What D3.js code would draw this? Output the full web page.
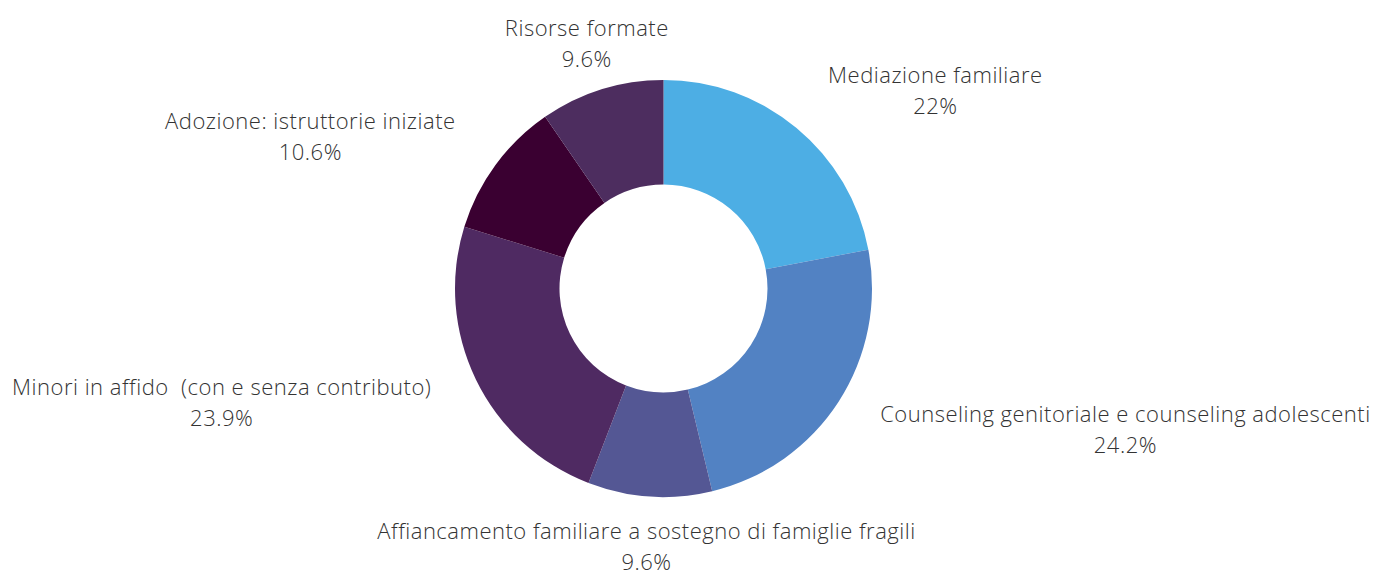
<!DOCTYPE html>
<html>
<head>
<meta charset="utf-8">
<script src="https://cdn.jsdelivr.net/npm/d3@7"></script>
<style>
  body { margin: 0; background: #fff; }
  text { font-family: "Open Sans", sans-serif; font-weight: 300; fill: #333; white-space: pre; }
</style>
</head>
<body>
<div id="chart"></div>
<script>
// categories, clockwise from 12 o'clock
var categories = [
	"Mediazione familiare",
	"Counseling genitoriale e counseling adolescenti",
	"Affiancamento familiare a sostegno di famiglie fragili",
	"Minori in affido  (con e senza contributo)",
	"Adozione: istruttorie iniziate",
	"Risorse formate"
];
var values = [22, 24.2, 9.6, 23.9, 10.6, 9.6];
var valueLabels = ["22%", "24.2%", "9.6%", "23.9%", "10.6%", "9.6%"];
var colors = ["#4daee4", "#5282c3", "#545794", "#4f2a62", "#3a0031", "#4d2d5f"];

function DrawDonut(selectid) {
	var width = 1377, height = 571;
	var cx = 663.5, cy = 288.5;
	var outerR = 208.5, innerR = 104;
	var labelR = 258;
	var fontsize = 22;
	var lineGap = 31;

	var svg = d3.select("#" + selectid).append("svg")
		.attr("width", width)
		.attr("height", height);

	var data = categories.map(function(c, i) {
		return {name: c, value: values[i], label: valueLabels[i], color: colors[i]};
	});

	var pie = d3.pie().sort(null).value(function(d) { return d.value; });
	var arc = d3.arc().innerRadius(innerR).outerRadius(outerR);
	var arcs = pie(data);

	var g = svg.append("g").attr("transform", "translate(" + cx + "," + cy + ")");

	g.selectAll("path.slice")
		.data(arcs)
		.enter()
		.append("path")
		.attr("class", "slice")
		.attr("d", arc)
		.attr("fill", function(d) { return d.data.color; });

	//labels: block sits on the mid angle, anchored by side
	var labels = g.selectAll("g.label")
		.data(arcs)
		.enter()
		.append("g")
		.attr("class", "label");

	labels.each(function(d) {
		var a = (d.startAngle + d.endAngle) / 2;
		var px = labelR * Math.sin(a);
		var py = -labelR * Math.cos(a);
		var grp = d3.select(this);
		var t1 = grp.append("text")
			.attr("font-size", fontsize)
			.attr("letter-spacing", 0.5)
			.attr("dominant-baseline", "central")
			.attr("text-anchor", "middle")
			.attr("y", py - lineGap / 2)
			.text(d.data.name);
		var t2 = grp.append("text")
			.attr("font-size", fontsize)
			.attr("letter-spacing", 0.5)
			.attr("dominant-baseline", "central")
			.attr("text-anchor", "middle")
			.attr("y", py + lineGap / 2)
			.text(d.data.label);
		var w = Math.max(t1.node().getComputedTextLength(), t2.node().getComputedTextLength());
		var s = Math.sin(a);
		var mid = px;
		if (s > 0.3) mid = px + w / 2;
		else if (s < -0.3) mid = px - w / 2;
		t1.attr("x", mid);
		t2.attr("x", mid);
	});
}
DrawDonut("chart");
</script>
</body>
</html>
